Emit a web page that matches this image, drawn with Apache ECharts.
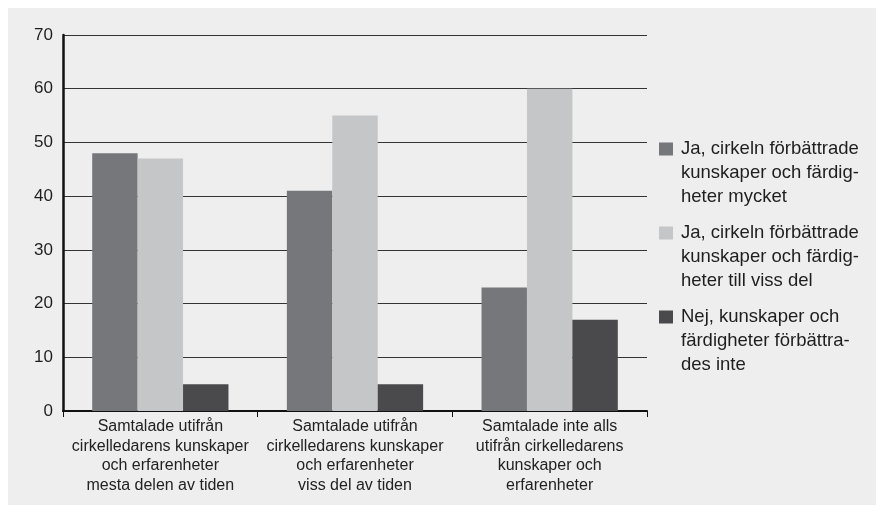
<!DOCTYPE html>
<html>
<head>
<meta charset="utf-8">
<script src="https://cdn.jsdelivr.net/npm/echarts@6/dist/echarts.min.js"></script>
<style>
    html, body { margin: 0; padding: 0; background: #ffffff; }
    #main { position: absolute; left: 8px; top: 8px; width: 868px; height: 497px; background: #eeeeee; }
</style>
</head>
<body>
<div id="main"></div>
<script>
var categories = [
    'Samtalade utifrån\ncirkelledarens kunskaper\noch erfarenheter\nmesta delen av tiden',
    'Samtalade utifrån\ncirkelledarens kunskaper\noch erfarenheter\nviss del av tiden',
    'Samtalade inte alls\nutifrån cirkelledarens\nkunskaper och\nerfarenheter'
];
var seriesNames = [
    'Ja, cirkeln förbättrade\nkunskaper och färdig-\nheter mycket',
    'Ja, cirkeln förbättrade\nkunskaper och färdig-\nheter till viss del',
    'Nej, kunskaper och\nfärdigheter förbättra-\ndes inte'
];
var muchValues = [48, 41, 23];
var someValues = [47, 55, 60];
var notValues = [5, 5, 17];
var yTicks = [0, 10, 20, 30, 40, 50, 60, 70];

var colors = ['#76777a', '#c5c6c8', '#4a4a4c'];
var font = 'Liberation Sans, Arial, sans-serif';

// square at the top of a tall icon box so it lines up with the first text line
var legendIcon = 'path://M0,0L14,0L14,13L0,13Z M0,61L0.01,61';

function barSeries(name, values, color) {
    return {
        name: name,
        type: 'bar',
        data: values,
        barGap: '0%',
        barCategoryGap: '30%',
        itemStyle: { color: color },
        emphasis: { disabled: true }
    };
}

var option = {
    animation: false,
    backgroundColor: 'transparent',
    textStyle: { fontFamily: font },
    grid: {
        left: 55,
        top: 27,
        width: 584,
        height: 376
    },
    legend: {
        orient: 'vertical',
        left: 651,
        top: 129,
        padding: 0,
        icon: legendIcon,
        itemWidth: 14,
        itemHeight: 61,
        itemGap: 12,
        selectedMode: false,
        data: seriesNames,
        textStyle: {
            fontFamily: font,
            fontSize: 18.5,
            lineHeight: 24,
            color: '#1e1e1e',
            padding: [0, 0, 0, 3]
        }
    },
    xAxis: {
        type: 'category',
        data: categories,
        axisLine: { lineStyle: { color: '#111111', width: 2 } },
        axisTick: { show: true, length: 6, lineStyle: { color: '#111111', width: 1 } },
        axisLabel: {
            interval: 0,
            margin: 6,
            fontFamily: font,
            fontSize: 16,
            lineHeight: 19.5,
            color: '#222222'
        }
    },
    yAxis: {
        type: 'value',
        min: yTicks[0],
        max: yTicks[yTicks.length - 1],
        interval: 10,
        axisLine: { show: true, lineStyle: { color: '#111111', width: 2.5 } },
        axisTick: { show: false },
        axisLabel: {
            margin: 10,
            fontFamily: font,
            fontSize: 17,
            color: '#1e1e1e'
        },
        splitLine: { lineStyle: { color: '#333333', width: 1 } }
    },
    series: [
        barSeries(seriesNames[0], muchValues, colors[0]),
        barSeries(seriesNames[1], someValues, colors[1]),
        barSeries(seriesNames[2], notValues, colors[2])
    ]
};

echarts.init(document.getElementById('main')).setOption(option);
</script>
</body>
</html>
